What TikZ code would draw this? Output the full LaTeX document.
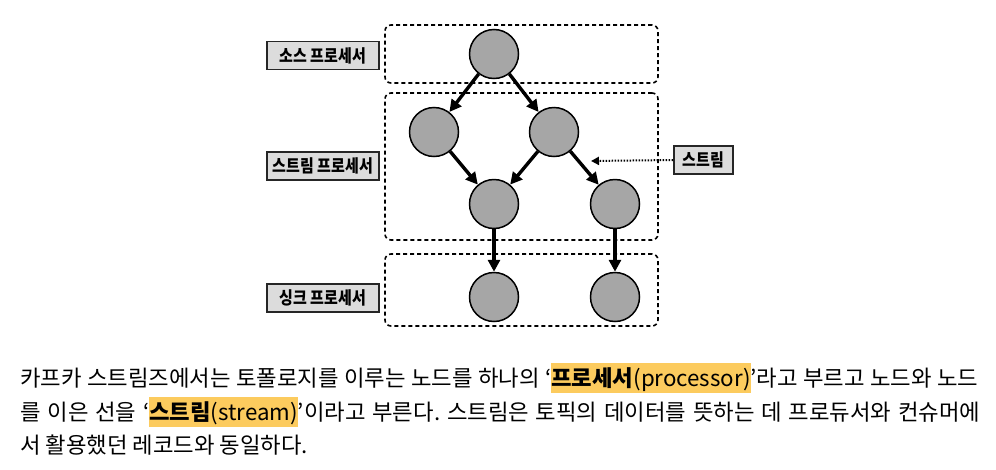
\documentclass[tikz,border=0pt]{standalone}
\usepackage{graphicx}
\usepackage{fontspec}
\setmainfont{Noto Sans CJK KR}
\usetikzlibrary{arrows.meta}
\frenchspacing
\definecolor{hlc}{HTML}{FCCB5E}
\definecolor{circfill}{HTML}{A6A6A6}
\definecolor{lblfill}{HTML}{DCDCDC}
\newcommand\hlt[2]{{\setlength{\fboxsep}{0pt}\colorbox{hlc}{\rule[-6.5pt]{0pt}{30pt}{\bfseries #1}#2}}}
\newcommand\tall[1]{\scalebox{1}[1.17]{#1}}
\begin{document}
\begin{tikzpicture}[x=1pt,y=-1pt,
  proc/.style={circle, draw=black, line width=1.5pt, fill=circfill, minimum size=49pt, inner sep=0pt},
  flow/.style={line width=3.4pt, -{Triangle[length=12pt,width=12pt]}},
  region/.style={draw=black, line width=1.6pt, dash pattern=on 4pt off 3pt, rounded corners=6pt, inner sep=0pt},
  tag/.style={draw=black!85, line width=1.6pt, fill=lblfill, font=\fontsize{15pt}{17pt}\selectfont\bfseries, minimum height=28pt, inner sep=1pt},
  dotflow/.style={line width=2pt, dash pattern=on 1.6pt off 1.4pt, -{Triangle[length=8pt,width=8pt]}},
  para/.style={anchor=base west, inner sep=0pt, font=\fontsize{22.3pt}{26pt}\selectfont}]
\useasboundingbox (0,0) rectangle (996,469);
\fill[white] (0,0) rectangle (996,469);
% regions
\node[region, minimum width=273pt, minimum height=58pt] (srcbox) at (521.5,54) {};
\node[region, minimum width=273pt, minimum height=147pt] (strbox) at (521.5,166.5) {};
\node[region, minimum width=273pt, minimum height=72pt] (snkbox) at (521.5,290) {};
% tags
\node[tag, minimum width=112pt] (srclbl) at (323,55.5) {\tall{소스 프로세서}};
\node[tag, minimum width=112pt] (strlbl) at (323,166) {\tall{스트림 프로세서}};
\node[tag, minimum width=112pt] (snklbl) at (323,298) {\tall{싱크 프로세서}};
\node[tag, minimum width=59pt] (streamlbl) at (703.5,160) {\tall{스트림}};
\coordinate (streamtip) at (591,161);
% processors
\node[proc] (s) at (494,54) {};
\node[proc] (a) at (434,132) {};
\node[proc] (b) at (554,132) {};
\node[proc] (c) at (494,204) {};
\node[proc] (d) at (615,204) {};
\node[proc] (e) at (494,297) {};
\node[proc] (f) at (615,297) {};
% flows
\draw[flow] (s) -- (a);
\draw[flow] (s) -- (b);
\draw[flow] (a) -- (c);
\draw[flow] (b) -- (c);
\draw[flow] (b) -- (d);
\draw[flow] (c) -- (e);
\draw[flow] (d) -- (f);
\draw[dotflow] (streamlbl.west) -- (streamtip);
% paragraph
\node[para] (l1) at (20,386.5) {\makebox[958pt][s]{카프카 스트림즈에서는 토폴로지를 이루는 노드를 하나의 ‘\hlt{프로세서}{(processor)}’라고 부르고 노드와 노드}};
\node[para] (l2) at (20,420) {\makebox[960pt][s]{를 이은 선을 ‘\hlt{스트림}{(stream)}’이라고 부른다. 스트림은 토픽의 데이터를 뜻하는 데 프로듀서와 컨슈머에}};
\node[para] (l3) at (20,453.5) {서 활용했던 레코드와 동일하다.};
\end{tikzpicture}
\end{document}
